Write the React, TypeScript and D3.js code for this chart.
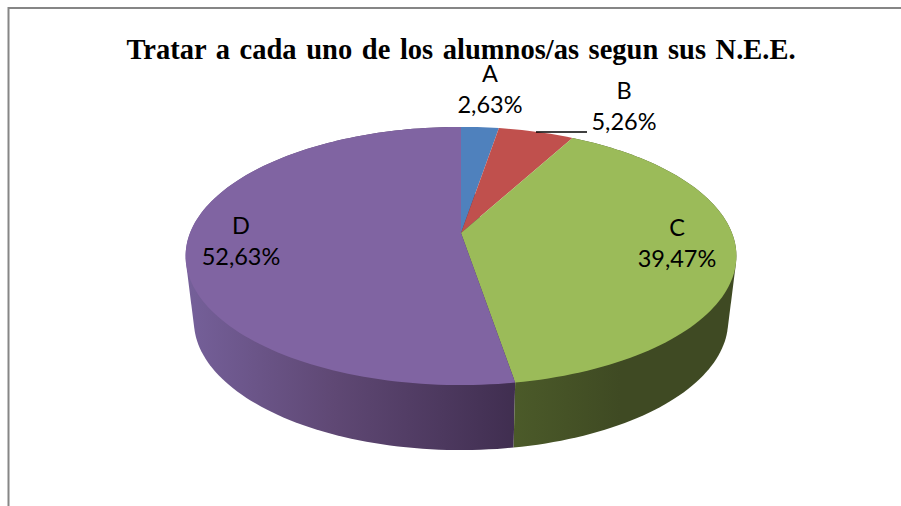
import React from "react";
import * as d3 from "d3";

const categories = ["A", "B", "C", "D"];
const values = [2.63, 5.26, 39.47, 52.63];
const valueLabels = ["2,63%", "5,26%", "39,47%", "52,63%"];
const topColors = ["#4f81bd", "#c0504d", "#9bbb59", "#8064a2"];
const title = "Tratar a cada uno de los alumnos/as segun sus N.E.E.";
const labelAnchors: [number, number][] = [[490, 82], [624, 99], [677, 236], [241, 234]];

const W = 901, H = 506;
const cx = 461, apexY = 233, R = 271, H0 = 125, k = 0.178;
const depth = 65, shrink = 0.97, SAMPLE = 1.5 * Math.PI / 180;

function project(a: number, bottom = false): [number, number] {
  const u = Math.sin(a), v = -Math.cos(a), w = 1 - k * v;
  const x = (R * u) / w, y = (H0 * v) / w;
  return bottom ? [cx + x * shrink, apexY + y + depth] : [cx + x, apexY + y];
}
function sweep(a0: number, a1: number): number[] {
  const n = Math.max(2, Math.ceil((a1 - a0) / SAMPLE));
  return d3.range(n + 1).map((i) => a0 + ((a1 - a0) * i) / n);
}
const line = d3.line<[number, number]>();
const arcs = d3.pie<number>().sort(null)(values);

function topPath(a0: number, a1: number) {
  return line([[cx, apexY], ...sweep(a0, a1).map((a) => project(a))])! + "Z";
}
function wallPath(a0: number, a1: number) {
  const pts = sweep(a0, a1).flatMap((a) => [project(a), project(a, true)]);
  return line(d3.polygonHull(pts as [number, number][])!)! + "Z";
}

export default function App() {
  const c = arcs[2], d = arcs[3];
  return (
    <svg width={W} height={H} viewBox={`0 0 ${W} ${H}`} style={{ position: "fixed", left: 0, top: 0, background: "#fff" }}>
      <defs>
        <linearGradient id="wallD" gradientUnits="userSpaceOnUse" x1={186} x2={515} y1={0} y2={0}>
          <stop offset="0" stopColor="#75609a" />
          <stop offset="0.45" stopColor="#5f4874" />
          <stop offset="1" stopColor="#402e50" />
        </linearGradient>
        <linearGradient id="wallC" gradientUnits="userSpaceOnUse" x1={515} x2={620} y1={0} y2={0}>
          <stop offset="0" stopColor="#4b5a29" />
          <stop offset="1" stopColor="#3f4a23" />
        </linearGradient>
      </defs>
      <path d={`M8.5 ${H}V8H${W}`} fill="none" stroke="#868686" strokeWidth={2} />
      <path d={wallPath(d.startAngle, d.endAngle)} fill="url(#wallD)" />
      <path d={wallPath(c.startAngle, c.endAngle)} fill="url(#wallC)" />
      {arcs.map((s, i) => (
        <path key={categories[i]} d={topPath(s.startAngle, s.endAngle)} fill={topColors[i]} />
      ))}
      <line x1={536} x2={587} y1={132} y2={132} stroke="#000" strokeWidth={1.5} />
      <text x={461} y={59} textAnchor="middle" fontFamily="'Liberation Serif'" fontWeight="bold" fontSize={28.5} wordSpacing={2.5} fill="#000">
        {title}
      </text>
      {categories.map((cat, i) => (
        <g key={cat} fontFamily="Lato" fontSize={23.5} fill="#000" textAnchor="middle">
          <text x={labelAnchors[i][0]} y={labelAnchors[i][1]}>{cat}</text>
          <text x={labelAnchors[i][0]} y={labelAnchors[i][1] + 31}>{valueLabels[i]}</text>
        </g>
      ))}
    </svg>
  );
}
